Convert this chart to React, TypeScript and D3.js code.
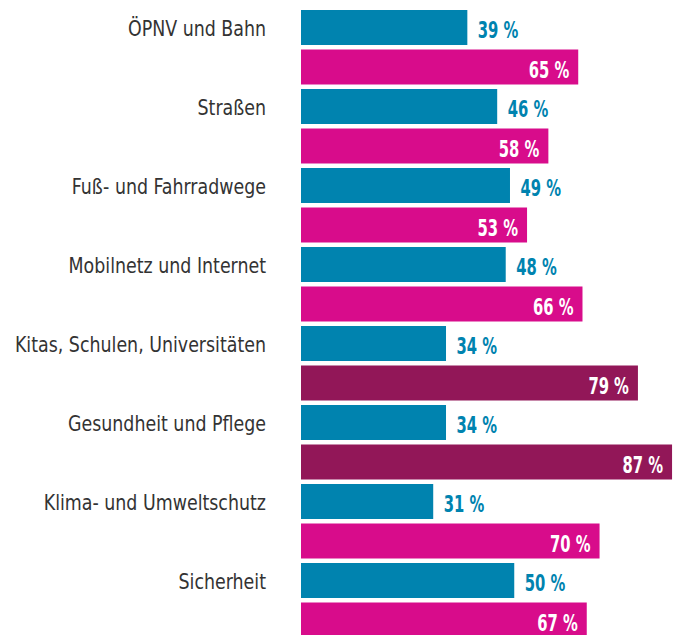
import React from "react";
import * as d3 from "d3";

const categories = [
  "ÖPNV und Bahn",
  "Straßen",
  "Fuß- und Fahrradwege",
  "Mobilnetz und Internet",
  "Kitas, Schulen, Universitäten",
  "Gesundheit und Pflege",
  "Klima- und Umweltschutz",
  "Sicherheit",
];
const blueValues = [39, 46, 49, 48, 34, 34, 31, 50];
const pinkValues = [65, 58, 53, 66, 79, 87, 70, 67];
const highlighted = ["Kitas, Schulen, Universitäten", "Gesundheit und Pflege"];

const W = 678;
const H = 635;
const BLUE = "#0083AF";
const PINK = "#D80C8B";
const PURPLE = "#921758";
const FONT = "'DejaVu Sans Condensed', 'DejaVu Sans', sans-serif";

export default function App() {
  const x = d3.scaleLinear().domain([0, 100]).range([301, 301 + 426.5]);
  const n = categories.length * 2;
  const step = 39.5;
  const gap = 4.5;
  const rowY = d3
    .scaleBand<number>()
    .domain(d3.range(n))
    .range([10, 10 + step * n - gap])
    .paddingInner(gap / step)
    .paddingOuter(0);
  const bh = rowY.bandwidth();

  return (
    <svg width={W} height={H} style={{ position: "absolute", left: 0, top: 0, background: "#fff" }}>
      {categories.map((c, i) => {
        const yb = rowY(i * 2)!;
        const yp = rowY(i * 2 + 1)!;
        const cb = yb + bh / 2;
        const cp = yp + bh / 2;
        const bv = blueValues[i];
        const pv = pinkValues[i];
        const pc = highlighted.includes(c) ? PURPLE : PINK;
        return (
          <g key={c}>
            <text
              transform={`translate(266,${cb + 8.2}) scale(0.88,1)`}
              textAnchor="end"
              fontFamily={FONT}
              fontSize={22}
              fill="#333"
            >
              {c}
            </text>
            <rect x={x(0)} y={yb} width={x(bv) - x(0)} height={bh} fill={BLUE} />
            <text
              transform={`translate(${x(bv) + 10.5},${cb + 10.5}) scale(0.7,1)`}
              fontFamily={FONT}
              fontWeight="bold"
              fontSize={23.5}
              fill={BLUE}
            >
              {bv} %
            </text>
            <rect x={x(0)} y={yp} width={x(pv) - x(0)} height={bh} fill={pc} />
            <text
              transform={`translate(${x(pv) - 9},${cp + 10.5}) scale(0.7,1)`}
              textAnchor="end"
              fontFamily={FONT}
              fontWeight="bold"
              fontSize={23.5}
              fill="#fff"
            >
              {pv} %
            </text>
          </g>
        );
      })}
    </svg>
  );
}
